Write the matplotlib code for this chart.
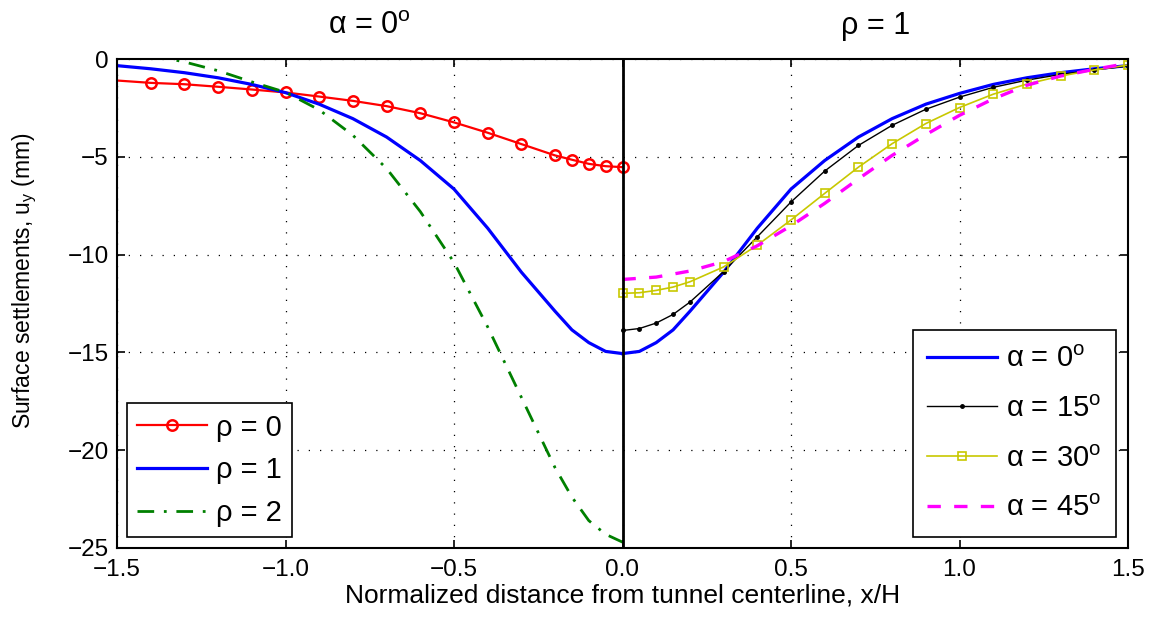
import matplotlib
matplotlib.use("Agg")
import matplotlib.pyplot as plt
import matplotlib.transforms as mtransforms

plt.rcParams['font.family'] = ['Liberation Sans', 'DejaVu Sans']
plt.rcParams['mathtext.fontset'] = 'custom'
plt.rcParams['mathtext.rm'] = 'Liberation Sans'
plt.rcParams['mathtext.it'] = 'Liberation Sans:italic'

# ---- data: left half (alpha = 0 deg) ----
rho0_x = [-1.5, -1.4, -1.3, -1.2, -1.1, -1.0, -0.9, -0.8, -0.7, -0.6, -0.5, -0.4,
          -0.3, -0.2, -0.15, -0.1, -0.05, 0.0]
rho0_y = [-1.10, -1.22, -1.29, -1.42, -1.56, -1.71, -1.92, -2.14, -2.41, -2.77, -3.24,
          -3.77, -4.35, -4.93, -5.15, -5.36, -5.48, -5.53]

rho1_x = [-1.5, -1.4, -1.3, -1.2, -1.1, -1.0, -0.9, -0.8, -0.7, -0.6, -0.5, -0.4,
          -0.3, -0.2, -0.15, -0.1, -0.05, 0.0]
rho1_y = [-0.34, -0.50, -0.70, -0.96, -1.30, -1.72, -2.31, -3.05, -3.99, -5.19, -6.65,
          -8.65, -10.9, -12.9, -13.85, -14.5, -14.95, -15.06]

rho2_x = [-1.4, -1.3, -1.2, -1.1, -1.0, -0.9, -0.8, -0.7, -0.6, -0.5, -0.4, -0.3,
          -0.2, -0.15, -0.1, -0.05, 0.0]
rho2_y = [0.2, -0.15, -0.6, -1.17, -1.7, -2.6, -3.9, -5.6, -7.8, -10.4, -13.7, -17.3,
          -20.9, -22.4, -23.6, -24.3, -24.7]

# ---- data: right half (rho = 1) ----
alpha_x = [0.0, 0.05, 0.1, 0.15, 0.2, 0.3, 0.4, 0.5, 0.6, 0.7, 0.8, 0.9, 1.0,
           1.1, 1.2, 1.3, 1.4, 1.5]
alpha0_y = [-15.06, -14.95, -14.5, -13.85, -12.9, -10.9, -8.65, -6.65, -5.19, -3.99,
            -3.05, -2.31, -1.76, -1.30, -0.96, -0.70, -0.50, -0.34]
alpha15_y = [-13.88, -13.78, -13.5, -13.06, -12.43, -10.87, -9.09, -7.31, -5.73, -4.42,
             -3.39, -2.57, -1.95, -1.45, -1.08, -0.79, -0.56, -0.36]
alpha30_y = [-11.98, -11.95, -11.83, -11.66, -11.39, -10.63, -9.52, -8.23, -6.87, -5.53,
             -4.33, -3.30, -2.48, -1.80, -1.28, -0.87, -0.56, -0.31]
alpha45_x = [0.0, 0.1, 0.2, 0.3, 0.4, 0.5, 0.6, 0.7, 0.8, 0.9, 1.0, 1.1, 1.2, 1.3, 1.4, 1.5]
alpha45_y = [-11.27, -11.15, -10.84, -10.36, -9.55, -8.53, -7.38, -6.13, -4.93, -3.87,
             -2.88, -2.04, -1.34, -0.87, -0.53, -0.22]

xticks = [-1.5, -1.0, -0.5, 0.0, 0.5, 1.0, 1.5]
xticklabels = ['\u22121.5', '\u22121.0', '\u22120.5', '0.0', '0.5', '1.0', '1.5']
yticks = [-25, -20, -15, -10, -5, 0]
yticklabels = ['\u221225', '\u221220', '\u221215', '\u221210', '\u22125', '0']

fig = plt.figure(figsize=(11.53, 6.19), dpi=100)
ax = fig.add_axes([117/1153, 1 - 548/619, 1011/1153, 489/619])

ax.set_xlim(-1.5, 1.5)
ax.set_ylim(-25, 0)
ax.grid(True, color='black', linestyle=(0, (1, 8)), linewidth=0.9)
ax.set_axisbelow(True)

l_r0, = ax.plot(rho0_x, rho0_y, color='red', lw=1.6, marker='o', ms=7.5, mfc='none',
                mew=1.8, markevery=list(range(1, len(rho0_x))), label='\u03c1 = 0')
l_r1, = ax.plot(rho1_x, rho1_y, color='blue', lw=2.3, label='\u03c1 = 1')
l_r2, = ax.plot(rho2_x, rho2_y, color='green', lw=2.0, dashes=(6, 3.5, 1, 3.5),
                label='\u03c1 = 2')

l_a0, = ax.plot(alpha_x, alpha0_y, color='blue', lw=2.3,
                label=r'$\mathrm{\alpha}$ = 0$^\mathrm{o}$')
l_a15, = ax.plot(alpha_x, alpha15_y, color='black', lw=1.0, marker='.', ms=5,
                 label=r'$\mathrm{\alpha}$ = 15$^\mathrm{o}$')
l_a30, = ax.plot(alpha_x, alpha30_y, color='#c8c800', lw=1.2, marker='s', ms=5.5,
                 mfc='none', mew=1.2, label=r'$\mathrm{\alpha}$ = 30$^\mathrm{o}$')
l_a45, = ax.plot(alpha45_x, alpha45_y, color='magenta', lw=2.4, dashes=(4, 4),
                 label=r'$\mathrm{\alpha}$ = 45$^\mathrm{o}$')

ax.axvline(0.0, color='black', lw=2.0, zorder=5)

ax.set_xticks(xticks)
ax.set_xticklabels(xticklabels)
ax.set_yticks(yticks)
ax.set_yticklabels(yticklabels)
ax.tick_params(direction='in', top=True, right=True, labelsize=17.5, length=6, width=1.2)
ax.tick_params(axis='x', pad=8)
ax.tick_params(axis='y', pad=6)
for s in ax.spines.values():
    s.set_linewidth(1.5)

ax.set_xlabel('Normalized distance from tunnel centerline, x/H', fontsize=19, labelpad=2)
ax.set_ylabel('Surface settlements, u$_\\mathrm{y}$ (mm)', fontsize=16.5)
ax.yaxis.set_label_coords(-0.077, 0.546)

trans = mtransforms.blended_transform_factory(ax.transData, fig.transFigure)
ax.text(-0.75, 1 - 26/619, '\u03b1 = 0$^\\mathrm{o}$', transform=trans, ha='center',
        va='center', fontsize=22)
ax.text(0.75, 1 - 26/619, '\u03c1 = 1', transform=trans, ha='center', va='center',
        fontsize=22)

leg1 = ax.legend(handles=[l_r0, l_r1, l_r2], loc='lower left',
                 bbox_to_anchor=(0.0099, 0.0225), fontsize=21, fancybox=False,
                 edgecolor='black', framealpha=1, borderpad=0.35, labelspacing=0.5,
                 handlelength=2.4, handletextpad=0.3, borderaxespad=0)
leg1.get_frame().set_linewidth(1.2)
ax.add_artist(leg1)
leg2 = ax.legend(handles=[l_a0, l_a15, l_a30, l_a45], loc='lower right',
                 bbox_to_anchor=(0.988, 0.0225), fontsize=21, fancybox=False,
                 edgecolor='black', framealpha=1, borderpad=0.5, labelspacing=0.75,
                 handlelength=2.4, handletextpad=0.3, borderaxespad=0)
leg2.get_frame().set_linewidth(1.2)
leg1.set_zorder(10)
leg2.set_zorder(10)

fig.savefig('out.png', dpi=100)
